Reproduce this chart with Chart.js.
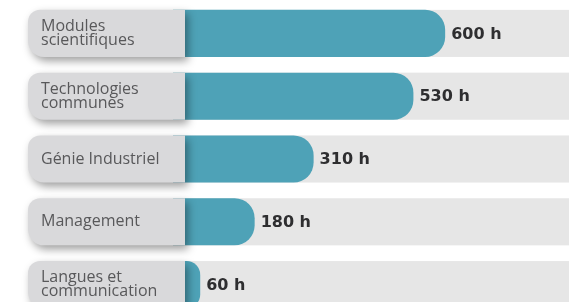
<!DOCTYPE html>
<html>
<head>
<meta charset="utf-8">
<script src="https://cdn.jsdelivr.net/npm/chart.js@4"></script>
<style>
  html, body { margin: 0; padding: 0; background: #ffffff; overflow: hidden; }
  #wrap { width: 569px; height: 316px; position: relative; }
</style>
</head>
<body>
<div id="wrap"><canvas id="hoursChart"></canvas></div>
<script>
const modules = [
  ['Modules', 'scientifiques'],
  ['Technologies', 'communes'],
  ['Génie Industriel'],
  ['Management'],
  ['Langues et', 'communication']
];
const hours = [600, 530, 310, 180, 60];
const unit = ' h';

// grey track behind each bar
const trackPlugin = {
  id: 'tracks',
  beforeDatasetsDraw(chart) {
    const ctx = chart.ctx;
    const meta = chart.getDatasetMeta(0);
    ctx.save();
    ctx.fillStyle = '#e6e6e6';
    meta.data.forEach(bar => {
      const h = bar.height;
      ctx.fillRect(chart.chartArea.left, bar.y - h / 2, chart.width - chart.chartArea.left, h);
    });
    ctx.restore();
  }
};

// label tabs on the left + value text
const tabPlugin = {
  id: 'tabs',
  afterDatasetsDraw(chart) {
    const ctx = chart.ctx;
    const meta = chart.getDatasetMeta(0);
    const x0 = 28, x1 = 185;
    meta.data.forEach((bar, i) => {
      const h = bar.height;
      const top = bar.y - h / 2;
      ctx.save();
      ctx.shadowColor = 'rgba(0,0,0,0.38)';
      ctx.shadowBlur = 9;
      ctx.shadowOffsetX = 3;
      ctx.shadowOffsetY = 4;
      ctx.fillStyle = '#d9d9db';
      ctx.beginPath();
      ctx.roundRect(x0, top, x1 - x0, h, [12, 0, 0, 16]);
      ctx.fill();
      ctx.restore();

      ctx.save();
      ctx.fillStyle = '#58585a';
      ctx.font = '16px "Open Sans"';
      ctx.textBaseline = 'middle';
      const lines = modules[i];
      const lh = 14;
      lines.forEach((ln, k) => {
        ctx.fillText(ln, 41, bar.y + (k - (lines.length - 1) / 2) * lh);
      });
      ctx.restore();

      ctx.save();
      ctx.fillStyle = '#2e2e30';
      ctx.font = 'bold 16px "DejaVu Sans"';
      ctx.textBaseline = 'middle';
      ctx.fillText(hours[i] + unit, Math.max(bar.x, x1) + 6, bar.y + 1);
      ctx.restore();
    });
  }
};

new Chart(document.getElementById('hoursChart'), {
  type: 'bar',
  data: {
    labels: modules,
    datasets: [{
      data: hours,
      backgroundColor: '#4ea2b7',
      borderRadius: 20,
      borderSkipped: 'start',
      categoryPercentage: 1,
      barPercentage: 0.75
    }]
  },
  options: {
    indexAxis: 'y',
    responsive: true,
    maintainAspectRatio: false,
    animation: false,
    layout: { padding: { left: 173, top: 2, right: 0, bottom: 0 } },
    scales: {
      x: { display: false, min: 0, max: 873 },
      y: { display: false }
    },
    plugins: {
      legend: { display: false },
      tooltip: { enabled: false }
    }
  },
  plugins: [trackPlugin, tabPlugin]
});
</script>
</body>
</html>
